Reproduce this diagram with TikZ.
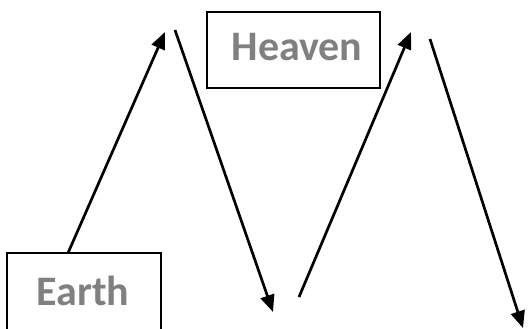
\documentclass[tikz,border=0pt]{standalone}
\usepackage{fontspec}
\setmainfont{Carlito}
\usetikzlibrary{arrows.meta}
\definecolor{txtgrey}{HTML}{808080}
\tikzset{
  labelbox/.style={draw=black, line width=2pt, inner sep=0pt},
  labeltxt/.style={text=txtgrey, font=\fontsize{42}{42}\selectfont\bfseries},
  arr/.style={line width=2.7pt, -{Triangle[length=17pt,width=14pt]}}
}
\begin{document}
\begin{tikzpicture}[x=1pt,y=1pt]
\useasboundingbox (0,0) rectangle (528,329);
\clip (0,0) rectangle (528,329);
\node[labelbox, minimum width=154pt, minimum height=86pt] (earth) at (84,33) {};
\node[labeltxt] (earthtxt) at (83,38) {Earth};
\node[labelbox, minimum width=173pt, minimum height=76pt] (heaven) at (293.5,279) {};
\node[labeltxt] (heaventxt) at (297,281.5) {Heaven};
\coordinate (e1) at (68,76);
\coordinate (t1) at (165,297);
\coordinate (t1b) at (175,299);
\coordinate (b1) at (273,17);
\coordinate (b1b) at (299,32);
\coordinate (t2) at (411,297);
\coordinate (t2b) at (430,290);
\coordinate (b2) at (523,1);
\draw[arr] (e1) -- (t1);
\draw[arr] (t1b) -- (b1);
\draw[arr] (b1b) -- (t2);
\draw[arr] (t2b) -- (b2);
\end{tikzpicture}
\end{document}
